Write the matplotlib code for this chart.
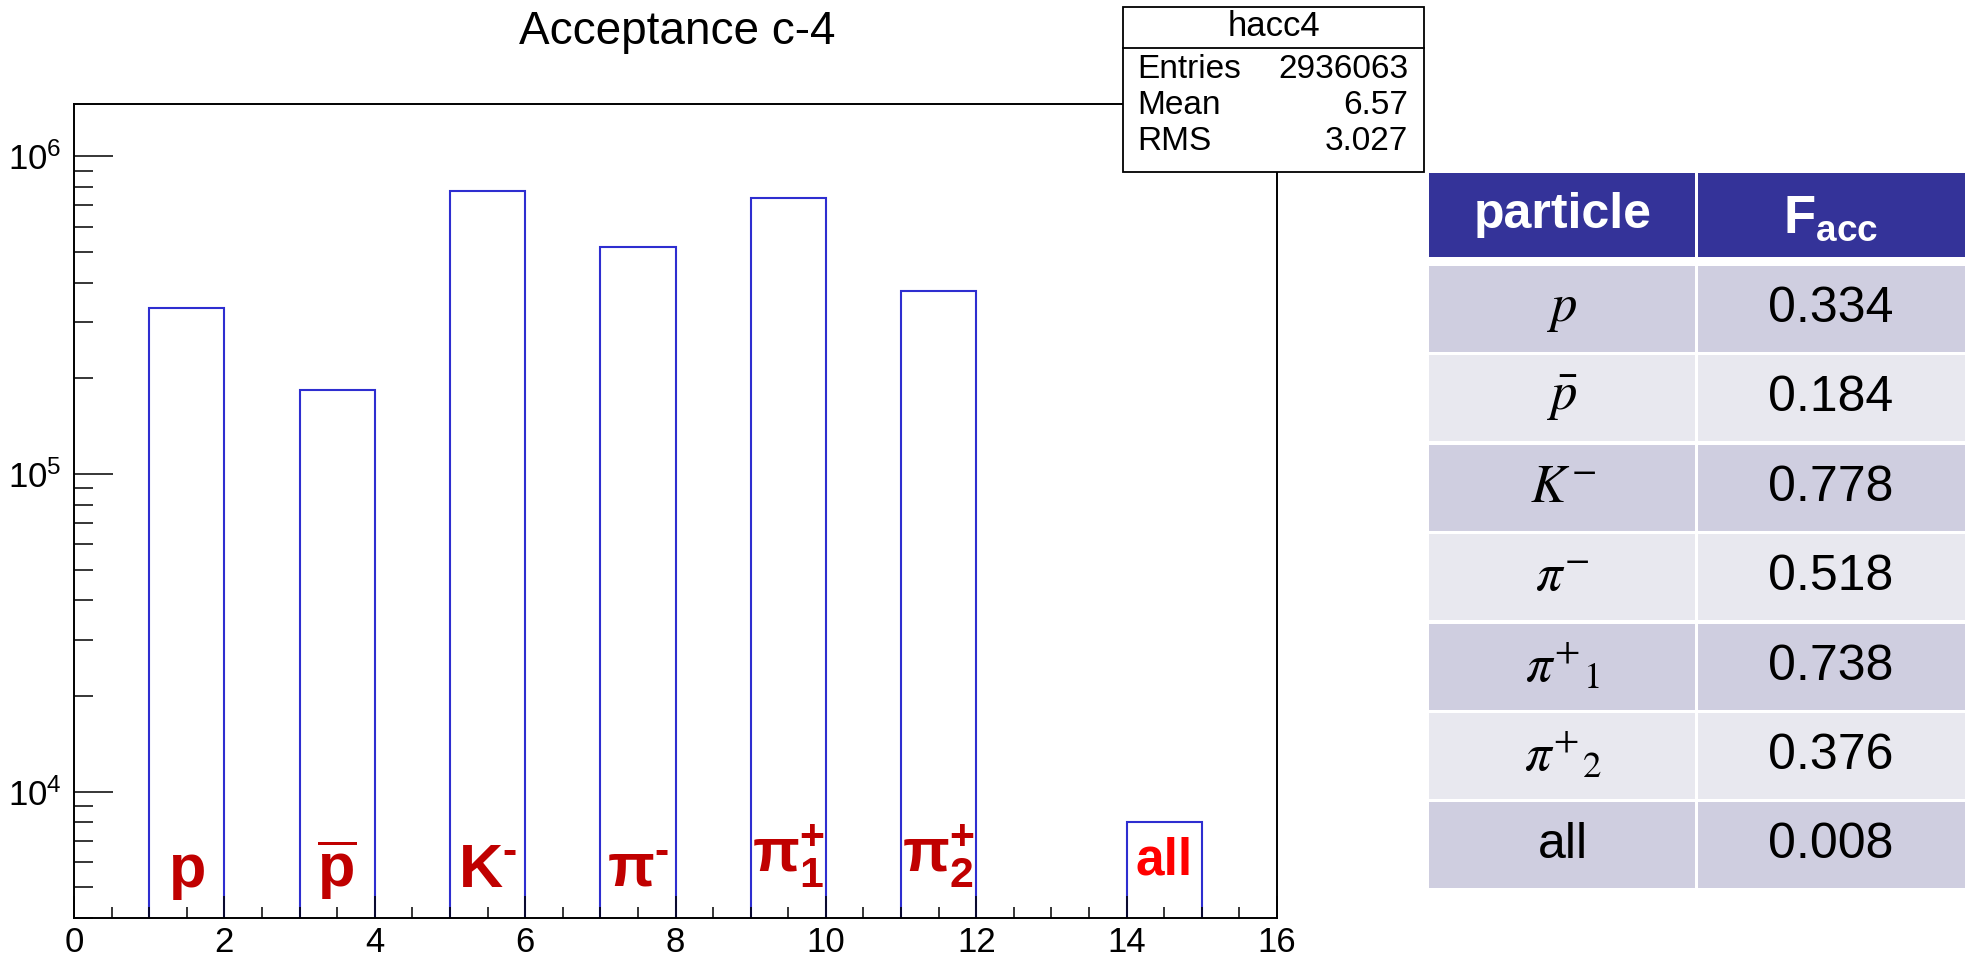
import numpy as np
import matplotlib
matplotlib.use("Agg")
import matplotlib.pyplot as plt
import matplotlib.patches as mpatches
from matplotlib.lines import Line2D
from matplotlib.ticker import LogLocator, MultipleLocator, NullFormatter

# ── DATA ───────────────────────────────────────────────────
hist_labels = [r"$\mathbf{p}$", r"$\overline{\mathbf{p}}$", r"$\mathbf{K^{‐}}$",
               r"$\mathbf{\pi^{‐}}$", r"$\mathbf{\pi^{+}_{1}}$", r"$\mathbf{\pi^{+}_{2}}$", "all"]
bin_low = [1, 3, 5, 7, 9, 11, 14]
counts = [334000, 184000, 778000, 518000, 738000, 376000, 8000]

table_names = [r"$p$", r"$\bar{p}$", r"$K^{-}$", r"$\pi^{-}$",
               r"${\pi^{+}}_{1}$", r"${\pi^{+}}_{2}$", "all"]
f_acc = [0.334, 0.184, 0.778, 0.518, 0.738, 0.376, 0.008]

stats_title = "hacc4"
stats_names = ["Entries", "Mean", "RMS"]
stats_vals = ["2936063", "6.57", "3.027"]

# ── STYLE ──────────────────────────────────────────────────
BLUE = "#2e2ed0"
DARK_RED = "#c00000"
RED = "#ff0000"
HEAD = "#343399"
ROW_A = "#cfcee0"
ROW_B = "#e8e8ef"
TICK_FS = 25

plt.rcParams.update({
    "font.family": ["Liberation Sans", "DejaVu Sans"],
    "mathtext.fontset": "custom",
    "mathtext.rm": "Liberation Sans",
    "mathtext.it": "Liberation Sans:italic",
    "mathtext.bf": "Liberation Sans:bold",
    "xtick.labelsize": TICK_FS,
    "ytick.labelsize": TICK_FS,
})

W, H = 1968, 957
fig = plt.figure(figsize=(W / 100, H / 100), dpi=100)


def fx(px):
    return px / W


def fy(py):
    return 1 - py / H


# ── HISTOGRAM ──────────────────────────────────────────────
ax = fig.add_axes([fx(74), fy(918), fx(1277) - fx(74), fy(104) - fy(918)])
ax.set_yscale("log")
ax.bar(bin_low, counts, width=1, align="edge", fill=False,
       edgecolor=BLUE, linewidth=1.5)
ax.set_xlim(0, 16)
ax.set_ylim(4000, 1.46e6)

ax.xaxis.set_major_locator(MultipleLocator(2))
ax.xaxis.set_minor_locator(MultipleLocator(0.5))
ax.yaxis.set_major_locator(LogLocator(base=10, numticks=10))
ax.yaxis.set_minor_locator(LogLocator(base=10, subs=np.arange(2, 10), numticks=30))
ax.yaxis.set_minor_formatter(NullFormatter())

ax.tick_params(axis="x", which="major", direction="in", length=16, width=1.1, pad=6)
ax.tick_params(axis="x", which="minor", direction="in", length=8, width=1.1)
ax.tick_params(axis="y", which="major", direction="in", length=28, width=1.1, pad=9)
ax.tick_params(axis="y", which="minor", direction="in", length=14, width=1.1)
for lbl in ax.get_xticklabels() + ax.get_yticklabels():
    lbl.set_fontsize(TICK_FS)
for sp in ax.spines.values():
    sp.set_linewidth(1.4)

label_y = [5000, 5000, 5000, 5000, 5600, 5600, 5500]
label_size = [44, 44, 44, 44, 44, 44, 37]
for i, lab in enumerate(hist_labels):
    color = RED if lab == "all" else DARK_RED
    ax.text(bin_low[i] + 0.5, label_y[i], lab, ha="center", va="baseline",
            fontsize=label_size[i], fontweight="bold", color=color)

fig.text(fx(677), fy(32), "Acceptance c-4", ha="center", va="center", fontsize=33)

# ── STATS BOX ──────────────────────────────────────────────
bx0, bx1, by0, by1, byh = 1123, 1424, 7, 172, 48
fig.add_artist(mpatches.Rectangle((fx(bx0), fy(by1)), fx(bx1) - fx(bx0), fy(by0) - fy(by1),
                                  facecolor="white", edgecolor="black", linewidth=1.3,
                                  transform=fig.transFigure, zorder=3))
fig.add_artist(Line2D([fx(bx0), fx(bx1)], [fy(byh), fy(byh)], color="black",
                      linewidth=1.3, transform=fig.transFigure, zorder=4))
fig.text(fx((bx0 + bx1) / 2), fy(27), stats_title, ha="center", va="center",
         fontsize=25, zorder=5)
row_c = [69, 105, 142]
for name, val, yc in zip(stats_names, stats_vals, row_c):
    fig.text(fx(1137), fy(yc), name, ha="left", va="center", fontsize=24, zorder=5)
    fig.text(fx(1408), fy(yc), val, ha="right", va="center", fontsize=24, zorder=5)

# ── TABLE ──────────────────────────────────────────────────
c0, c1, c2, gap = 1429, 1696, 1965, 3
head_top, head_bot = 173, 257
row_top0, row_pitch, row_h = 266, 89.4, 86


def cell(x0, x1, y0, y1, color):
    fig.add_artist(mpatches.Rectangle((fx(x0), fy(y1)), fx(x1) - fx(x0), fy(y0) - fy(y1),
                                      facecolor=color, edgecolor="none",
                                      transform=fig.transFigure, zorder=1))


cell(c0, c1 - gap / 2, head_top, head_bot, HEAD)
cell(c1 + gap / 2, c2, head_top, head_bot, HEAD)
fig.text(fx((c0 + c1) / 2), fy((head_top + head_bot) / 2), "particle", ha="center",
         va="center", fontsize=36, fontweight="bold", color="white")
fig.text(fx((c1 + c2) / 2), fy((head_top + head_bot) / 2 + 4), r"$\mathbf{F}_{\mathbf{acc}}$",
         ha="center", va="center", fontsize=38, color="white")

for i, (name, val) in enumerate(zip(table_names, f_acc)):
    top = row_top0 + i * row_pitch
    bot = top + row_h
    color = ROW_A if i % 2 == 0 else ROW_B
    cell(c0, c1 - gap / 2, top, bot, color)
    cell(c1 + gap / 2, c2, top, bot, color)
    yc = (top + bot) / 2
    if name == "all":
        fig.text(fx((c0 + c1) / 2), fy(yc), name, ha="center", va="center",
                 fontsize=36, color="black")
    else:
        fig.text(fx((c0 + c1) / 2), fy(yc), name, ha="center", va="center",
                 fontsize=38, color="black", math_fontfamily="stix")
    fig.text(fx((c1 + c2) / 2), fy(yc), f"{val:.3f}", ha="center", va="center",
             fontsize=36, color="black")

fig.savefig("out.png", dpi=100)
